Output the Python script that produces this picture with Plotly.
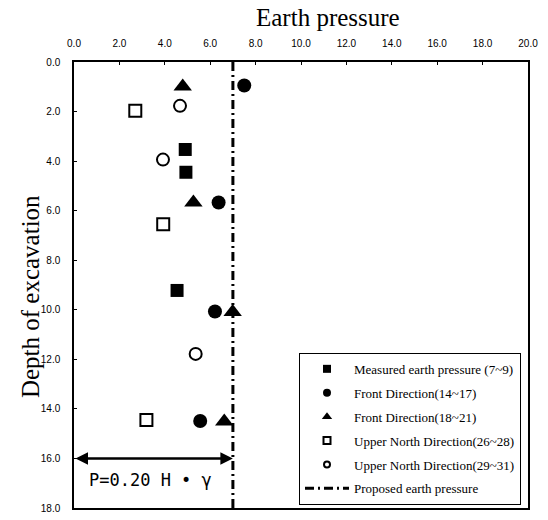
import plotly.graph_objects as go

# ---- data ----
measured_x = [4.90, 4.93, 4.54]
measured_y = [3.53, 4.45, 9.22]
front1417_x = [7.50, 6.37, 6.21, 5.56]
front1417_y = [0.95, 5.67, 10.07, 14.49]
front1821_x = [4.79, 5.26, 6.99, 6.62]
front1821_y = [0.99, 5.67, 10.09, 14.51]
upper2628_x = [2.70, 3.93, 3.19]
upper2628_y = [1.97, 6.55, 14.45]
upper2931_x = [4.67, 3.92, 5.36]
upper2931_y = [1.77, 3.94, 11.78]
proposed_x = [7.0, 7.0]
proposed_y = [0.0, 18.0]
arrow_depth = 16.0

x_ticks = [0, 2, 4, 6, 8, 10, 12, 14, 16, 18, 20]
y_ticks = [0, 2, 4, 6, 8, 10, 12, 14, 16, 18]

fig = go.Figure()

def add_pts(x, y, name, symbol, size, open_, legend_size):
    style = lambda s: dict(symbol=symbol, size=s,
                           color="white" if open_ else "black",
                           line=dict(color="black", width=2 if open_ else 0))
    fig.add_trace(go.Scatter(x=x, y=y, mode="markers", name=name,
                             showlegend=False, marker=style(size)))
    # legend entry (small symbols as in the reference legend)
    fig.add_trace(go.Scatter(x=[None], y=[None], mode="markers", name=name,
                             legendgroup=name, marker=style(legend_size)))

add_pts(measured_x, measured_y, "Measured earth pressure (7~9)", "square", 13, False, 8)
add_pts(front1417_x, front1417_y, "Front Direction(14~17)", "circle", 14, False, 8)
add_pts(front1821_x, front1821_y, "Front Direction(18~21)", "triangle-up", 16, False, 9)
add_pts(upper2628_x, upper2628_y, "Upper North Direction(26~28)", "square", 12, True, 7)
add_pts(upper2931_x, upper2931_y, "Upper North Direction(29~31)", "circle", 12, True, 6)

fig.add_trace(go.Scatter(
    x=proposed_x, y=proposed_y, mode="lines", name="Proposed earth pressure",
    legendgroup="prop",
    line=dict(color="black", width=3, dash="9px,4px,2px,4px"),
))

fig.add_annotation(
    x=proposed_x[0], y=arrow_depth, ax=0, ay=arrow_depth,
    xref="x", yref="y", axref="x", ayref="y",
    showarrow=True, arrowhead=2, arrowside="end+start", arrowwidth=2.5,
    arrowsize=1, arrowcolor="black", text="",
)
fig.add_annotation(
    x=3.35, y=16.87, xref="x", yref="y", showarrow=False,
    text="P=0.20 H • γ",
    font=dict(family="DejaVu Sans Mono", size=17, color="black"),
)
# axis titles
fig.add_annotation(
    x=0.5605, y=1.0987, xref="paper", yref="paper", showarrow=False,
    xanchor="center", yanchor="middle", text="Earth pressure",
    font=dict(family="Liberation Serif", size=25, color="black"),
)
fig.add_annotation(
    x=-0.097, y=0.475, xref="paper", yref="paper", showarrow=False,
    xanchor="center", yanchor="middle", text="Depth of excavation", textangle=-90,
    font=dict(family="Liberation Serif", size=25, color="black"),
)

axis_common = dict(
    showline=True, linecolor="black", linewidth=1.5, mirror=True,
    showgrid=False, zeroline=False, ticks="inside", ticklen=3,
    tickcolor="black", tickformat=".1f", automargin=False,
    tickfont=dict(family="Liberation Sans", size=10, color="black"),
)

fig.update_layout(
    width=548, height=520,
    margin=dict(l=74, r=20, t=62, b=12),
    paper_bgcolor="white", plot_bgcolor="white",
    xaxis=dict(range=[0, 20], tickvals=x_ticks, side="top",
               ticklabelstandoff=9, **axis_common),
    yaxis=dict(range=[18, 0], tickvals=y_ticks,
               ticklabelstandoff=10, **axis_common),
    legend=dict(x=0.4956, y=0.007, xanchor="left", yanchor="bottom",
                bgcolor="white", bordercolor="black", borderwidth=1,
                font=dict(family="Liberation Serif", size=13, color="black"),
                tracegroupgap=4, itemwidth=44),
    showlegend=True,
)

fig.write_html("out.html", config={"displayModeBar": False},
               post_script="document.body.style.margin='0';document.body.style.overflow='hidden';")
